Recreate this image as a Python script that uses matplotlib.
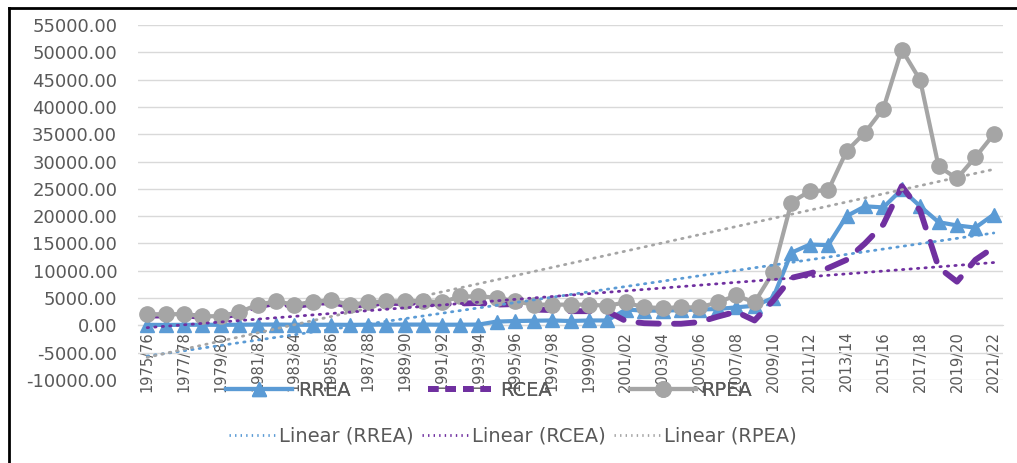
import numpy as np
import matplotlib
matplotlib.use("Agg")
import matplotlib.pyplot as plt
from matplotlib.lines import Line2D

# Category labels (financial years)
years = [f"{y}/{(y + 1) % 100:02d}" for y in range(1975, 2022)]

# Series values
rrea = [100, 80, 100, 120, 100, 120, 150, 150, 120, 100,
        120, 100, 120, 150, 150, 150, 120, 130, 150, 700,
        800, 850, 900, 800, 900, 900, 2900, 2700, 2700, 2800,
        2900, 3000, 3300, 3600, 5000, 13300, 14800, 14700, 20000, 21800,
        21600, 24900, 21800, 18900, 18300, 17900, 20300]
rcea = [1800, 1800, 1900, 1500, 1500, 2200, 3500, 4100, 3500, 4000,
        4300, 3500, 3900, 4100, 4100, 4200, 3900, 4000, 4100, 3800,
        3900, 2900, 2800, 2600, 2600, 2600, 800, 400, 300, 300,
        600, 1600, 2500, 900, 4500, 8700, 9500, 10500, 12000, 15000,
        18500, 25500, 21000, 10600, 8000, 12000, 14300]
rpea = [2000, 2000, 2100, 1650, 1700, 2400, 3800, 4400, 3800, 4300,
        4600, 3800, 4200, 4400, 4400, 4500, 4200, 5300, 5300, 5100,
        4400, 3800, 3800, 3800, 3800, 3600, 4200, 3300, 3200, 3300,
        3300, 4200, 5500, 4200, 9700, 22500, 24600, 24700, 31900, 35300,
        39700, 50500, 44900, 29100, 26900, 30800, 35000]

BLUE = "#5B9BD5"
PURPLE = "#7030A0"
GRAY = "#A5A5A5"
TXT = "#595959"

x = np.arange(len(years))

fig = plt.figure(figsize=(10.17, 4.63), dpi=100)
ax = fig.add_axes([138 / 1017, 1 - 380 / 463, 865 / 1017, 355 / 463])
# move the category axis to y = 0 first (this resets the ticks)
ax.spines["bottom"].set_position(("data", 0))
ax.spines["bottom"].set_color("#D9D9D9")
for s in ["left", "top", "right"]:
    ax.spines[s].set_visible(False)

ax.plot(x, rrea, color=BLUE, lw=3, marker="^", ms=10, zorder=3)
ax.plot(x, rcea, color=PURPLE, lw=4.2, dashes=(3.5, 2.6),
        dash_capstyle="round", zorder=3)
ax.plot(x, rpea, color=GRAY, lw=3, marker="o", ms=11, zorder=4)

# linear trend lines
for ser, col in [(rrea, BLUE), (rcea, PURPLE), (rpea, GRAY)]:
    k, b = np.polyfit(x, ser, 1)
    ax.plot(x, k * x + b, color=col, lw=2, linestyle=(0, (0.5, 2.2)),
            dash_capstyle="round", zorder=5)

ax.set_xlim(-0.5, len(years) - 0.5)
ax.set_ylim(-10000, 55000)
ax.set_yticks(np.arange(-10000, 55001, 5000))
ax.set_yticklabels([f"{v:.2f}" for v in np.arange(-10000, 55001, 5000)])
ax.yaxis.grid(True, color="#D9D9D9", lw=1)
ax.set_axisbelow(True)

ax.set_xticks(x[::2])
ax.set_xticklabels(years[::2])
ax.tick_params(axis="x", length=0, pad=4, labelsize=10.5, colors=TXT,
               labelrotation=90)
ax.tick_params(axis="y", length=0, pad=15, labelsize=13, colors=TXT)

# legend, two rows
h1 = [Line2D([], [], color=BLUE, lw=3, marker="^", ms=10),
      Line2D([], [], color=PURPLE, lw=4.2, dashes=(1.8, 1.2)),
      Line2D([], [], color=GRAY, lw=3, marker="o", ms=11)]
leg1 = fig.legend(h1, ["RREA", "RCEA", "RPEA"], loc="center",
                  bbox_to_anchor=(489 / 1017, 1 - 390 / 463), ncol=3,
                  frameon=False, fontsize=14, handlelength=3.4,
                  handletextpad=0.3, columnspacing=4.0, labelcolor=TXT)
h2 = [Line2D([], [], color=c, lw=2, linestyle=(0, (0.5, 1.5)))
      for c in (BLUE, PURPLE, GRAY)]
fig.legend(h2, ["Linear (RREA)", "Linear (RCEA)", "Linear (RPEA)"],
           loc="center", bbox_to_anchor=(513 / 1017, 1 - 436 / 463), ncol=3,
           frameon=False, fontsize=14, handlelength=2.4, handletextpad=0.2,
           columnspacing=0.4, labelcolor=TXT)
fig.add_artist(leg1)

# chart frame (top and left edges visible)
fig.add_artist(Line2D([9 / 1017, 1], [1 - 8 / 463, 1 - 8 / 463],
                      color="black", lw=2, transform=fig.transFigure))
fig.add_artist(Line2D([9 / 1017, 9 / 1017], [0, 1 - 8 / 463],
                      color="black", lw=2, transform=fig.transFigure))

fig.savefig("out.png", dpi=100)
